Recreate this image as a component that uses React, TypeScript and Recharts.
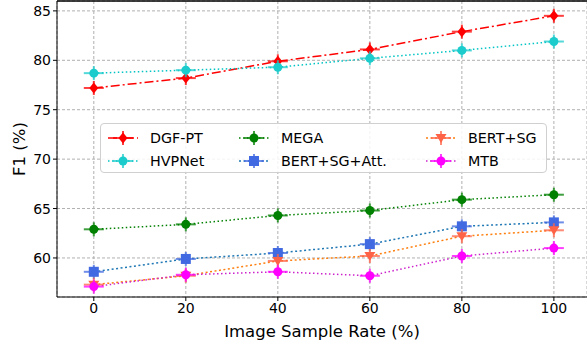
import React from "react";
import {
  LineChart,
  Line,
  XAxis,
  YAxis,
  CartesianGrid,
  ReferenceLine,
} from "recharts";

const rates = [0, 20, 40, 60, 80, 100];
const dgfPt = [77.2, 78.2, 79.9, 81.1, 82.9, 84.5];
const hvpNet = [78.7, 79.0, 79.3, 80.2, 81.0, 81.9];
const mega = [62.9, 63.4, 64.3, 64.8, 65.9, 66.4];
const bertSgAtt = [58.6, 59.9, 60.5, 61.4, 63.2, 63.6];
const bertSg = [57.3, 58.2, 59.7, 60.2, 62.2, 62.8];
const mtb = [57.1, 58.3, 58.6, 58.2, 60.2, 61.0];

const xTicks = [0, 20, 40, 60, 80, 100];
const yTicks = [60, 65, 70, 75, 80, 85];
const yMin = 56.05;
const yMax = 86;

const FONT = "'DejaVu Sans', sans-serif";

type Shape = "diamond" | "circle" | "square" | "tri";

interface Series {
  key: string;
  name: string;
  line: string;
  marker: string;
  dash: string;
  shape: Shape;
}

const series: Series[] = [
  { key: "dgf", name: "DGF-PT", line: "#ff0000", marker: "#ff0000", dash: "9 3 2 3", shape: "diamond" },
  { key: "hvp", name: "HVPNet", line: "#00c4c4", marker: "#1ccccc", dash: "1.5 2.5", shape: "circle" },
  { key: "mega", name: "MEGA", line: "#008000", marker: "#008000", dash: "1.5 2.5", shape: "circle" },
  { key: "att", name: "BERT+SG+Att.", line: "#1f77b4", marker: "#4169e1", dash: "2 2.5", shape: "square" },
  { key: "sg", name: "BERT+SG", line: "#ff7f0e", marker: "#ff6347", dash: "2 2.5", shape: "tri" },
  { key: "mtb", name: "MTB", line: "#cc22cc", marker: "#ff00ff", dash: "1.5 2.5", shape: "circle" },
];

const values: Record<string, number[]> = {
  dgf: dgfPt,
  hvp: hvpNet,
  mega: mega,
  att: bertSgAtt,
  sg: bertSg,
  mtb: mtb,
};

const data = rates.map((r, i) => {
  const row: any = { rate: r };
  series.forEach((s) => {
    row[s.key] = values[s.key][i];
  });
  return row;
});

function Marker({ cx, cy, shape, color }: { cx: number; cy: number; shape: Shape; color: string }) {
  if (shape === "diamond")
    return <polygon points={`${cx},${cy - 5.5} ${cx + 4.5},${cy} ${cx},${cy + 5.5} ${cx - 4.5},${cy}`} fill={color} />;
  if (shape === "square") return <rect x={cx - 5} y={cy - 5} width={10} height={10} fill={color} />;
  if (shape === "tri")
    return <polygon points={`${cx - 5.5},${cy - 4} ${cx + 5.5},${cy - 4} ${cx},${cy + 5}`} fill={color} />;
  return <circle cx={cx} cy={cy} r={4.5} fill={color} />;
}

// marker plus the small x/y error cross drawn at every point
function Point({ cx, cy, s }: { cx: number; cy: number; s: Series }) {
  return (
    <g>
      <line x1={cx - 10} y1={cy} x2={cx + 10} y2={cy} stroke={s.marker} strokeWidth={2} opacity={0.75} />
      <line x1={cx} y1={cy - 7} x2={cx} y2={cy + 7} stroke={s.marker} strokeWidth={2} opacity={0.75} />
      <Marker cx={cx} cy={cy} shape={s.shape} color={s.marker} />
    </g>
  );
}

function makeDot(s: Series) {
  return (props: any) => {
    const { cx, cy, index } = props;
    if (cx == null || cy == null) return <g key={`${s.key}-${index}`} />;
    return (
      <g key={`${s.key}-${index}`}>
        <Point cx={cx} cy={cy} s={s} />
      </g>
    );
  };
}

function LegendBox() {
  return (
    <div
      style={{
        position: "absolute",
        left: 100,
        top: 123,
        width: 447,
        height: 50,
        border: "1px solid #d0d0d0",
        borderRadius: 4,
        background: "rgba(255,255,255,0.85)",
        display: "grid",
        gridTemplateRows: "23px 23px",
        gridTemplateColumns: "131px 187px 120px",
        gridAutoFlow: "column",
        paddingTop: 2,
        paddingLeft: 5,
        boxSizing: "border-box",
        fontFamily: FONT,
        fontSize: 14.3,
        color: "#000",
      }}
    >
      {series.map((s) => (
        <div key={s.key} style={{ display: "flex", alignItems: "center" }}>
          <svg width={44} height={22}>
            <line x1={2} y1={11} x2={32} y2={11} stroke={s.line} strokeWidth={1.5} strokeDasharray={s.dash} />
            <Point cx={17} cy={11} s={s} />
          </svg>
          <span>{s.name}</span>
        </div>
      ))}
    </div>
  );
}

export default function App() {
  return (
    <div style={{ position: "absolute", top: 0, left: 0, width: 587, height: 347, overflow: "hidden", background: "#fff" }}>
      <LineChart
        width={600}
        height={347}
        data={data}
        margin={{ top: 1, right: 13, bottom: 0, left: 0 }}
        style={{ fontFamily: FONT }}
      >
        <CartesianGrid stroke="#b0b0b0" strokeDasharray="3 2" />
        <XAxis
          dataKey="rate"
          type="number"
          domain={[-8, 107.2]}
          ticks={xTicks}
          allowDataOverflow
          height={50}
          stroke="#000"
          tickSize={4}
          tick={{ fill: "#000", fontSize: 14 }}
          label={{ value: "Image Sample Rate (%)", position: "insideBottom", offset: 10, fill: "#000", fontSize: 16.5 }}
        />
        <YAxis
          type="number"
          domain={[yMin, yMax]}
          ticks={yTicks}
          allowDataOverflow
          width={57}
          stroke="#000"
          tickSize={4}
          tick={{ fill: "#000", fontSize: 14 }}
          label={{ value: "F1 (%)", angle: -90, position: "insideLeft", offset: 19, fill: "#000", fontSize: 16.5, style: { textAnchor: "middle" } }}
        />
        {/* top spine */}
        <ReferenceLine y={yMax} stroke="#000" strokeWidth={1.5} ifOverflow="visible" />
        {series.map((s) => (
          <Line
            key={s.key}
            dataKey={s.key}
            name={s.name}
            stroke={s.line}
            strokeWidth={1.5}
            strokeDasharray={s.dash}
            dot={makeDot(s)}
            activeDot={false}
            isAnimationActive={false}
          />
        ))}
      </LineChart>
      <LegendBox />
    </div>
  );
}
